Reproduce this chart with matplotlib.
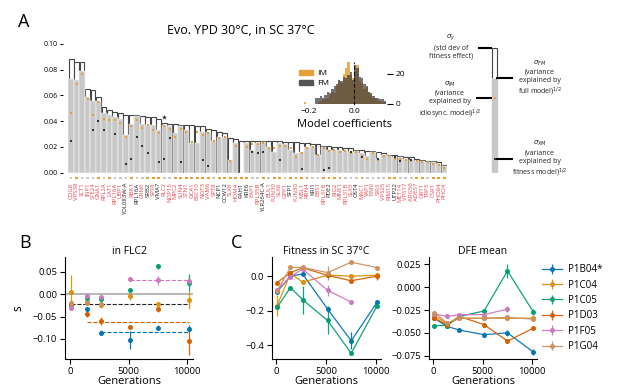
import numpy as np
import matplotlib
matplotlib.use('Agg')
import matplotlib.pyplot as plt
from matplotlib.patches import Patch

plt.rcParams['font.family'] = ['Open Sans', 'DejaVu Sans']
plt.rcParams['axes.unicode_minus'] = True
plt.rcParams['axes.linewidth'] = 0.8

W, H = 617, 389

# ---------------- Panel A data ----------------
genes = ['COG8', 'VPS38', 'SCT1', 'INP1', 'STE24', 'GNA1', 'RPL2A', 'LAT1', 'RPL16A', 'UBP1',
         'YOL083W-A', 'RBK1', 'RPL16A', 'CRN6', 'SRB2', 'SPT8', 'VMA7', 'RLC2', 'NOP16', 'MPC2',
         'SUN4', 'STN1', 'OCA1', 'BSC10', 'NOT3', 'VAM6', 'SPT8', 'NCP1', 'CCW12', 'SLX8',
         'HOM4', 'PAH1', 'KRE6', 'EAP1', 'RPL35B', 'YLR264C-A', 'BUL1', 'FUN30', 'SLX8', 'GPP1',
         'SFP1', 'FUN30', 'MSL1', 'RRN4', 'KRI1', 'EBS1', 'RPL31B', 'PDE2', 'RIG2', 'MNE1',
         'RPL31B', 'SLX5', 'OST4', 'MAC1', 'YAP1', 'TIM9', 'SIR3', 'VPS25', 'RIM15', 'UTP22',
         'MET14', 'VPS17', 'ARG56', 'ADE57', 'ORT1', 'TRP3', 'CSR1', 'PHO84', 'PHO4']
black_labels = ['YOL083W-A', 'SRB2', 'VMA7', 'NCP1', 'CCW12', 'PAH1', 'KRE6', 'YLR264C-A',
                'SFP1', 'KRI1', 'PDE2', 'OST4', 'UTP22']
black_label_pos = [12]  # second RPL16A (0-based index) drawn in black

sigma_total = [0.088, 0.086, 0.086, 0.065, 0.064, 0.059, 0.051, 0.049, 0.047, 0.046,
               0.045, 0.045, 0.045, 0.044, 0.043, 0.043, 0.042, 0.039, 0.038, 0.038,
               0.037, 0.037, 0.037, 0.036, 0.036, 0.034, 0.033, 0.032, 0.031, 0.027,
               0.026, 0.025, 0.025, 0.025, 0.025, 0.025, 0.025, 0.025, 0.025, 0.024,
               0.024, 0.024, 0.023, 0.023, 0.022, 0.022, 0.021, 0.021, 0.020, 0.020,
               0.019, 0.019, 0.018, 0.018, 0.017, 0.017, 0.016, 0.015, 0.014, 0.014,
               0.013, 0.012, 0.012, 0.011, 0.010, 0.009, 0.009, 0.008, 0.006]
sigma_fm = [0.073, 0.072, 0.079, 0.059, 0.056, 0.056, 0.046, 0.045, 0.043, 0.042,
            0.029, 0.038, 0.044, 0.038, 0.037, 0.037, 0.033, 0.037, 0.036, 0.031,
            0.036, 0.033, 0.023, 0.023, 0.032, 0.032, 0.025, 0.028, 0.028, 0.010,
            0.023, 0.0, 0.023, 0.018, 0.023, 0.024, 0.020, 0.016, 0.023, 0.022,
            0.018, 0.015, 0.016, 0.020, 0.021, 0.014, 0.020, 0.018, 0.018, 0.018,
            0.017, 0.016, 0.017, 0.015, 0.013, 0.016, 0.011, 0.014, 0.013, 0.012,
            0.012, 0.011, 0.010, 0.009, 0.009, 0.008, 0.008, 0.007, 0.005]
sigma_im = [0.046, 0.069, 0.077, 0.057, 0.045, 0.055, 0.042, 0.041, 0.041, 0.039,
            0.028, 0.036, 0.041, 0.035, 0.037, 0.033, 0.031, 0.036, 0.034, 0.028,
            0.034, 0.032, 0.024, 0.032, 0.029, 0.031, 0.025, 0.027, 0.028, 0.009,
            0.021, np.nan, 0.020, 0.022, 0.022, 0.023, 0.019, 0.019, 0.021, 0.021,
            0.019, 0.012, 0.015, 0.019, 0.020, 0.014, 0.019, 0.017, 0.018, 0.016,
            0.017, 0.015, 0.016, 0.013, 0.011, 0.015, 0.010, 0.013, 0.013, 0.011,
            0.011, 0.010, 0.009, 0.009, 0.008, 0.008, 0.007, 0.006, 0.004]
sigma_xm = [0.025, np.nan, np.nan, np.nan, 0.033, 0.040, 0.033, np.nan, 0.030, np.nan,
            0.007, 0.011, 0.028, 0.021, 0.015, np.nan, 0.008, 0.011, 0.027, np.nan,
            0.008, np.nan, np.nan, np.nan, 0.010, 0.005, np.nan, np.nan, np.nan, np.nan,
            np.nan, np.nan, np.nan, 0.016, 0.015, 0.016, np.nan, np.nan, 0.010, np.nan,
            np.nan, np.nan, 0.003, np.nan, np.nan, np.nan, 0.002, 0.004, np.nan, np.nan,
            np.nan, 0.016, np.nan, 0.012, np.nan, np.nan, 0.011, np.nan, np.nan, 0.012,
            0.009, np.nan, 0.010, np.nan, np.nan, np.nan, np.nan, np.nan, np.nan]
sig_flag = [0, 1, 0, 0, 0, 1, 0, 1, 0, 0, 0, 1, 0, 0, 1, 1, 1, 0, 0, 1,
            1, 1, 1, 1, 1, 1, 0, 1, 1, 1, 1, 1, 1, 0, 0, 1, 0, 1, 1, 0,
            1, 1, 1, 1, 0, 0, 1, 1, 1, 1, 0, 0, 0, 1, 0, 0, 0, 0, 1, 1,
            0, 0, 0, 1, 1, 0, 1, 1, 1]
star_idx = [17]
star_val = [0.043]

# histogram of model coefficients (bin width 0.01 starting at -0.22)
hist_start = -0.22
hist_width = 0.01
im_counts = [1, 0, 0, 0, 0, 0, 1, 2, 3, 3, 4, 6, 8, 7, 12, 15, 14, 20, 24, 28,
             19, 17, 22, 26, 15, 14, 10, 11, 8, 6, 4, 4, 2, 2, 1, 1, 0]
fm_counts = [0, 0, 0, 0, 0, 4, 4, 5, 4, 6, 8, 7, 10, 12, 13, 16, 15, 18, 17, 19,
             21, 16, 26, 24, 18, 17, 13, 12, 8, 7, 5, 4, 4, 3, 3, 2, 0]

# schematic example (legend bar)
schem_total = [0.097]
schem_fm = [0.0738]
schem_im = [0.058]
schem_xm = [0.0109]

# ---------------- Panels B/C data ----------------
gens = [70, 1410, 2640, 5150, 7530, 10150]
strains = ['P1B04*', 'P1C04', 'P1C05', 'P1D03', 'P1F05', 'P1G04']
colors = ['#0173b2', '#de8f05', '#029e73', '#d55e00', '#cc78bc', '#ca9161']
nan = np.nan

flc2_s = [[-0.022, -0.034, -0.086, -0.102, -0.075, -0.077],
          [0.005, -0.017, -0.025, -0.004, -0.023, -0.014],
          [-0.025, -0.008, -0.010, 0.010, 0.062, 0.026],
          [-0.021, -0.045, -0.060, -0.073, -0.034, -0.105],
          [-0.032, -0.004, -0.006, 0.033, 0.031, 0.029],
          [-0.019, -0.019, -0.023, nan, nan, nan]]
flc2_err = [[0.003, 0.004, 0.005, 0.020, 0.006, 0.008],
            [0.038, 0.004, 0.005, 0.010, 0.004, 0.020],
            [0.003, 0.003, 0.003, 0.004, 0.006, 0.020],
            [0.003, 0.005, 0.010, 0.004, 0.005, 0.030],
            [0.003, 0.003, 0.003, 0.003, 0.010, 0.006],
            [0.003, 0.003, 0.003, nan, nan, nan]]
flc2_mean_val = [-0.021, -0.063, -0.085, 0.032]
flc2_mean_start = [70, 1410, 2640, 5150]
flc2_mean_color = ['#222222', '#d55e00', '#0173b2', '#cc78bc']

fit_s = [[-0.090, 0.000, 0.012, -0.190, -0.373, -0.150],
         [-0.170, 0.015, -0.035, 0.005, 0.000, 0.004],
         [-0.180, -0.066, -0.136, -0.256, -0.445, -0.170],
         [-0.037, 0.020, 0.048, 0.004, -0.027, 0.000],
         [-0.080, -0.003, 0.040, -0.082, -0.150, nan],
         [-0.085, 0.050, 0.050, 0.020, 0.080, 0.049]]
fit_err = [[0.010, 0.010, 0.010, 0.020, 0.050, 0.010],
           [0.060, 0.010, 0.010, 0.010, 0.010, 0.010],
           [0.010, 0.010, 0.080, 0.080, 0.010, 0.010],
           [0.010, 0.010, 0.010, 0.010, 0.010, 0.020],
           [0.010, 0.010, 0.010, 0.030, 0.010, nan],
           [0.010, 0.010, 0.010, 0.040, 0.010, 0.010]]

dfe_s = [[-0.034, -0.043, -0.047, -0.052, -0.050, -0.071],
         [-0.031, -0.040, -0.034, -0.034, -0.034, -0.034],
         [-0.042, -0.042, -0.032, -0.026, 0.018, -0.027],
         [-0.034, -0.041, -0.032, -0.041, -0.059, -0.045],
         [-0.029, -0.032, -0.030, -0.030, -0.024, nan],
         [-0.028, -0.039, -0.034, -0.034, -0.033, -0.035]]
dfe_err = [[0.002, 0.002, 0.002, 0.003, 0.003, 0.003],
           [0.002, 0.002, 0.002, 0.002, 0.002, 0.002],
           [0.002, 0.002, 0.002, 0.002, 0.008, 0.003],
           [0.002, 0.002, 0.002, 0.002, 0.002, 0.002],
           [0.002, 0.002, 0.002, 0.002, 0.003, nan],
           [0.002, 0.002, 0.002, 0.002, 0.002, 0.002]]

# ---------------- figure ----------------
fig = plt.figure(figsize=(W / 100, H / 100), dpi=100)


def fx(px):
    return px / W


def fy(py):
    return 1 - py / H


RED = '#e8464e'
ORANGE = '#e5a03a'
GREY = '#c8c8c8'

# Panel A bars
a_bottom, a_top = 172.7, 44
axA = fig.add_axes([fx(68.3), fy(a_bottom), fx(447 - 68.3), (a_bottom - a_top) / H])
x = np.arange(len(genes))
axA.bar(x, sigma_total, width=0.9, color='white', edgecolor='#444444', linewidth=0.8, zorder=1)
axA.bar(x, sigma_fm, width=0.96, color=GREY, edgecolor='white', linewidth=0.35, zorder=2)
axA.scatter(x, sigma_im, marker='s', s=4, color=ORANGE, zorder=3, linewidths=0)
axA.scatter(x, sigma_xm, marker='s', s=3, color='#333333', zorder=3, linewidths=0)
axA.scatter(star_idx, star_val, marker='*', s=14, color='#222222', zorder=3, linewidths=0)
flag_colors = [ORANGE if f else '#c8c8c8' for f in sig_flag]
axA.scatter(x, np.full(len(x), -0.0042), marker='s', s=4, c=flag_colors, clip_on=False,
            linewidths=0)
axA.set_xlim(-0.5, len(genes) - 0.5)
axA.set_ylim(0, 0.10)
for sp in axA.spines.values():
    sp.set_visible(False)
axA.spines['left'].set_position(('outward', 4))
axA.set_yticks([0, 0.02, 0.04, 0.06, 0.08, 0.10])
axA.set_yticklabels(['0.00', '0.02', '0.04', '0.06', '0.08', '0.10'])
axA.tick_params(axis='y', labelsize=5, length=2.5, width=0.7, pad=1)
axA.set_xticks(x)
axA.set_xticklabels(genes, rotation=90, fontsize=4.3)
axA.tick_params(axis='x', length=0, pad=7)
for i, t in enumerate(axA.get_xticklabels()):
    g = genes[i]
    t.set_color('#222222' if (g in black_labels or i in black_label_pos) else RED)

fig.text(fx(241), fy(30), 'Evo. YPD 30°C, in SC 37°C', fontsize=9, ha='center', va='center')
fig.text(fx(24), fy(22), 'A', fontsize=13, ha='center', va='center')

# Inset histogram
axH = fig.add_axes([fx(302), fy(105), fx(85), 43 / H])
lefts = hist_start + hist_width * np.arange(len(im_counts))
axH.bar(lefts, im_counts, width=hist_width, align='edge', color=ORANGE, alpha=0.85,
        linewidth=0, label='IM')
axH.bar(lefts, fm_counts, width=hist_width, align='edge', color='#3a3a3a', alpha=0.7,
        linewidth=0, label='FM')
axH.axvline(0, color='#111111', ls='--', lw=0.8)
axH.set_xlim(-0.228, 0.144)
axH.set_ylim(-0.7, 28)
for sp in axH.spines.values():
    sp.set_visible(False)
axH.yaxis.tick_right()
axH.set_yticks([0, 20])
axH.tick_params(axis='y', labelsize=6, length=4, width=0.8, pad=2)
axH.set_xticks([-0.2, 0.0])
axH.set_xticklabels(['−0.2', '0.0'])
axH.tick_params(axis='x', labelsize=6, length=0, pad=2)
axH.set_xlabel('Model coefficients', fontsize=8, labelpad=3)
axH.legend(handles=[Patch(color=ORANGE, label='IM'), Patch(color='#555555', label='FM')],
           loc='upper left', bbox_to_anchor=(-0.03, 0.82), frameon=False, fontsize=6,
           handlelength=1.6, handleheight=0.6, borderaxespad=0, borderpad=0,
           labelspacing=0.3, handletextpad=0.5)

# Schematic bar
axS = fig.add_axes([fx(420), fy(a_bottom), fx(180), (a_bottom - a_top) / H])
axS.set_xlim(420, 600)
axS.set_ylim(0, 0.10)
axS.axis('off')
bx = 494.5
axS.bar([bx], schem_total, width=5, color='white', edgecolor='#444444', linewidth=0.8)
axS.bar([bx], schem_fm, width=5.6, color=GREY, edgecolor='white', linewidth=0.4)
axS.scatter([bx], schem_im, marker='s', s=4, color=ORANGE, linewidths=0, zorder=3)
axS.scatter([bx], schem_xm, marker='s', s=3, color='#333333', linewidths=0, zorder=3)
axS.plot([479, 491], [schem_total[0]] * 2, color='k', lw=1.5, clip_on=False)
axS.plot([477, 491], [schem_im[0]] * 2, color='k', lw=1.5, clip_on=False)
axS.plot([497, 512], [schem_fm[0]] * 2, color='k', lw=1.5, clip_on=False)
axS.plot([497, 512], [schem_xm[0]] * 2, color='k', lw=1.5, clip_on=False)
kw = dict(fontsize=5, ha='center', va='center', linespacing=1.25, clip_on=False,
          color='#222222')
axS.text(451, 0.0984, '$\\sigma_y$\n(std dev of\nfitness effect)', **kw)
axS.text(450, 0.0565, '$\\sigma_{IM}$\n(variance\nexplained by\nidiosync. model)$^{1/2}$', **kw)
axS.text(540, 0.0733, '$\\sigma_{FM}$\n(variance\nexplained by\nfull model)$^{1/2}$', **kw)
axS.text(540, 0.0106, '$\\sigma_{XM}$\n(variance\nexplained by\nfitness model)$^{1/2}$', **kw)

# ---------------- Bottom panels ----------------
b_bottom, b_top = 359, 257
hb = (b_bottom - b_top) / H


def style(ax):
    for s in ['top', 'right']:
        ax.spines[s].set_visible(False)
    ax.tick_params(labelsize=6.8, length=3.5, width=0.8, pad=2)
    ax.set_xticks([0, 5000, 10000])
    ax.set_xlim(-450, 10530)
    ax.set_xlabel('Generations', fontsize=8, labelpad=0.5)


# B
axB = fig.add_axes([fx(65), fy(b_bottom), fx(128), hb])
axB.axhline(0, color='#aaaaaa', lw=1.2, zorder=0)
for v, st, c in zip(flc2_mean_val, flc2_mean_start, flc2_mean_color):
    axB.plot([st, gens[-1]], [v, v], ls='--', lw=0.8, color=c, zorder=1)
for vals, errs, c in zip(flc2_s, flc2_err, colors):
    axB.errorbar(gens, vals, yerr=errs, fmt='o', ms=2.6, color=c, elinewidth=0.9,
                 ecolor=c, capsize=0, alpha=0.95, zorder=2)
axB.set_ylim(-0.145, 0.083)
axB.set_yticks([-0.10, -0.05, 0.0, 0.05])
axB.set_yticklabels(['−0.10', '−0.05', '0.00', '0.05'])
style(axB)
axB.set_title('in FLC2', fontsize=7.5, pad=2)
axB.set_ylabel('s', fontsize=8.5, labelpad=6, rotation=90)
fig.text(fx(25), fy(243), 'B', fontsize=13, ha='center', va='center')

# C fitness
axC = fig.add_axes([fx(272), fy(b_bottom), fx(109), hb])
for vals, errs, c in zip(fit_s, fit_err, colors):
    axC.errorbar(gens, vals, yerr=errs, fmt='-o', ms=2.6, lw=0.9, color=c,
                 elinewidth=0.9, capsize=0, alpha=0.95)
axC.set_ylim(-0.478, 0.11)
axC.set_yticks([-0.4, -0.2, 0.0])
axC.set_yticklabels(['−0.4', '−0.2', '0.0'])
style(axC)
axC.set_title('Fitness in SC 37°C', fontsize=7.5, pad=2)
fig.text(fx(237), fy(243), 'C', fontsize=13, ha='center', va='center')

# DFE mean
axD = fig.add_axes([fx(429), fy(b_bottom), fx(108), hb])
handles = []
for vals, errs, c, lab in zip(dfe_s, dfe_err, colors, strains):
    h = axD.errorbar(gens, vals, yerr=errs, fmt='-o', ms=2.6, lw=0.9, color=c,
                     elinewidth=0.9, capsize=0, alpha=0.95, label=lab)
    handles.append(h)
axD.set_ylim(-0.0787, 0.0332)
axD.set_yticks([-0.075, -0.05, -0.025, 0.0, 0.025])
axD.set_yticklabels(['−0.075', '−0.050', '−0.025', '0.000', '0.025'])
style(axD)
axD.set_title('DFE mean', fontsize=7.5, pad=2)
axD.legend(handles=handles, labels=strains, loc='upper left', bbox_to_anchor=(1.05, 0.93),
           frameon=False, fontsize=7, borderaxespad=0, borderpad=0, labelspacing=0.45,
           handlelength=2.0, handletextpad=0.6)

fig.savefig('out.png', dpi=100)
